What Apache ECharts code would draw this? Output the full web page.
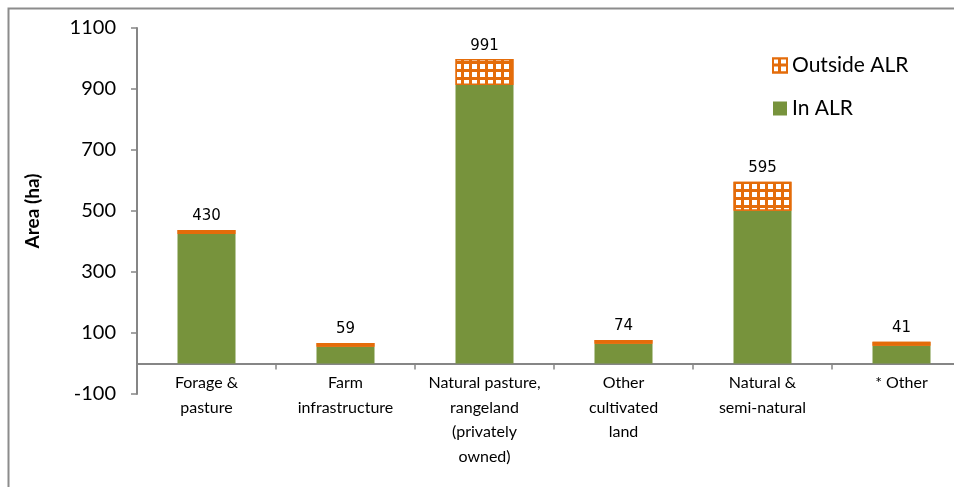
<!DOCTYPE html>
<html>
<head>
<meta charset="utf-8">
<script src="https://cdn.jsdelivr.net/npm/echarts@6/dist/echarts.min.js"></script>
<style>html,body{margin:0;padding:0;background:#fff;}#c{width:954px;height:487px;}</style>
</head>
<body>
<div id="c"></div>
<script>
var categories = ['Forage &\npasture', 'Farm\ninfrastructure', 'Natural pasture,\nrangeland\n(privately\nowned)', 'Other\ncultivated\nland', 'Natural &\nsemi-natural', '* Other'];
var inALR = [425, 55, 913, 65, 501, 58];
var outsideALR = [13, 12, 85, 12, 95, 13];
var totalLabels = ['430', '59', '991', '74', '595', '41'];
var yTicks = [-100, 100, 300, 500, 700, 900, 1100];

var font = 'Lato, "Open Sans", sans-serif';
var gridDecal = { symbol: 'rect', symbolSize: 1, color: '#ffffff', dashArrayX: [[5, 3]], dashArrayY: [5, 3], rotation: 0 };
var outsideData = outsideALR.map(function (v) {
  return v > 30 ? v : { value: v, itemStyle: { decal: { symbol: 'none' } } };
});

var chart = echarts.init(document.getElementById('c'));
chart.setOption({
  animation: false,
  backgroundColor: '#fff',
  graphic: [{
    type: 'polyline',
    shape: { points: [[8.5, 490], [8.5, 8.5], [960, 8.5]] },
    style: { stroke: '#8c8c8c', lineWidth: 2, fill: null }
  }],
  grid: { left: 137, top: 28, width: 834, height: 366, outerBoundsMode: 'none', containLabel: false },
  legend: {
    orient: 'vertical',
    left: 767, top: 50,
    icon: 'rect',
    itemWidth: 14, itemHeight: 14, itemGap: 22,
    data: ['Outside ALR', 'In ALR'],
    textStyle: { fontFamily: font, fontSize: 21, color: '#000' }
  },
  xAxis: {
    type: 'category',
    data: categories,
    axisLine: { onZero: true, lineStyle: { color: '#868686', width: 2 } },
    axisTick: { show: true, length: 6, lineStyle: { color: '#868686', width: 1.5 } },
    axisLabel: { fontFamily: font, fontSize: 16, color: '#000', lineHeight: 24.5, margin: -23, interval: 0 }
  },
  yAxis: {
    type: 'value',
    min: -100, max: 1100,
    name: 'Area (ha)',
    nameLocation: 'middle',
    nameGap: 95,
    nameTextStyle: { fontFamily: font, fontSize: 19, fontWeight: 'bold', color: '#000' },
    splitLine: { show: false },
    axisLine: { show: true, lineStyle: { color: '#868686', width: 2 } },
    axisTick: { show: true, length: 6, customValues: yTicks, lineStyle: { color: '#868686', width: 1.5 } },
    axisLabel: { customValues: yTicks, fontFamily: font, fontSize: 20, color: '#000', margin: 21, formatter: function (v) { return String(v); } }
  },
  series: [{
    name: 'In ALR',
    type: 'bar',
    stack: 'a',
    barWidth: 58,
    data: inALR,
    itemStyle: { color: '#77933C' }
  }, {
    name: 'Outside ALR',
    type: 'bar',
    stack: 'a',
    barWidth: 58,
    data: outsideData,
    itemStyle: {
      color: '#E46C0A',
      borderColor: '#E46C0A',
      borderWidth: 1.5,
      decal: gridDecal
    },
    label: {
      show: true,
      position: 'top',
      distance: 6,
      fontFamily: '"DejaVu Sans", sans-serif',
      fontSize: 15,
      color: '#000',
      formatter: function (p) { return totalLabels[p.dataIndex]; }
    }
  }]
});
</script>
</body>
</html>
